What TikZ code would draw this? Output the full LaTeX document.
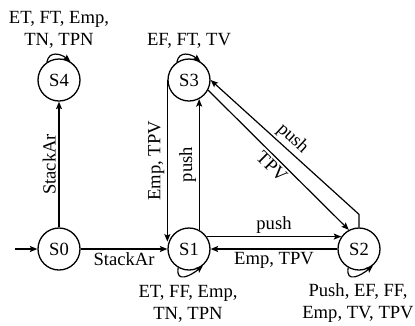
\documentclass[tikz,border=0pt]{standalone}
\usepackage{fontspec}
\setmainfont{Liberation Serif}
\usetikzlibrary{arrows.meta,calc}
\begin{document}
\begin{tikzpicture}[x=1pt,y=-1pt,
  state/.style={circle,draw,line width=1.3pt,minimum size=42pt,inner sep=0pt,font=\fontsize{18.6}{22}\selectfont},
  lbl/.style={font=\fontsize{18.6}{22}\selectfont,inner sep=2.5pt},
  blk/.style={font=\fontsize{18.6}{22}\selectfont,inner sep=0pt,align=center},
  conn/.style={line width=1.2pt,-{Stealth[length=7.5pt,width=6pt,inset=1.5pt]}}]
\useasboundingbox (0,0) rectangle (415,325);
\node[state] (S4) at (59,80) {S4};
\node[state] (S3) at (189,80) {S3};
\node[state] (S0) at (59,249) {S0};
\node[state] (S1) at (189,249) {S1};
\node[state] (S2) at (359,249) {S2};
\coordinate (start) at (15,249);
\coordinate (bend) at ($(S2.north)+(0,-13)$);
% entry
\draw[conn] (start) -- (S0);
% transitions
\draw[conn] (S0) -- node[lbl,below] (t01) {StackAr} (S1);
\draw[conn] (S0) -- node[lbl,rotate=90,anchor=south] (t04) {StackAr} (S4);
\draw[conn] (S1.62) -- node[lbl,rotate=90,anchor=south] (t13) {push} (S3.-62);
\draw[conn] (S3.west) -- node[lbl,rotate=90,anchor=south] (t31) {Emp, TPV} (S3.west |- S1.160);
\draw[conn] (S1.35) -- node[lbl,above] (t12) {push} (S2.145);
\draw[conn] (S2.west) -- node[lbl,below] (t21) {Emp, TPV} (S1.east);
\draw[conn] (S3.-28) -- node[lbl,pos=0.5,rotate=-44.8,anchor=north] (t32) {TPV} (S2.118);
\draw[conn] (S2.north) -- (bend) -- node[lbl,pos=0.5,rotate=-42.8,anchor=south] (t23) {push} (S3.east);
% self loops
\draw[conn] (S4.124) .. controls +(-80:12) and +(-140:12) .. (S4.58);
\draw[conn] (S3.124) .. controls +(-80:12) and +(-140:12) .. (S3.58);
\draw[conn] (S1.-120) .. controls +(100:16) and +(140:16) .. (S1.-50);
\draw[conn] (S2.-120) .. controls +(100:16) and +(140:16) .. (S2.-50);
% loop labels
\node[blk,anchor=north] (l4) at (59,11.5) {ET, FT, Emp,\\TN, TPN};
\node[lbl,anchor=base] (l3) at (189,45) {EF, FT, TV};
\node[blk,anchor=north] (l1) at (188,285) {ET, FF, Emp,\\TN, TPN};
\node[blk,anchor=north] (l2) at (358,283) {Push, EF, FF,\\Emp, TV, TPV};
\end{tikzpicture}
\end{document}
